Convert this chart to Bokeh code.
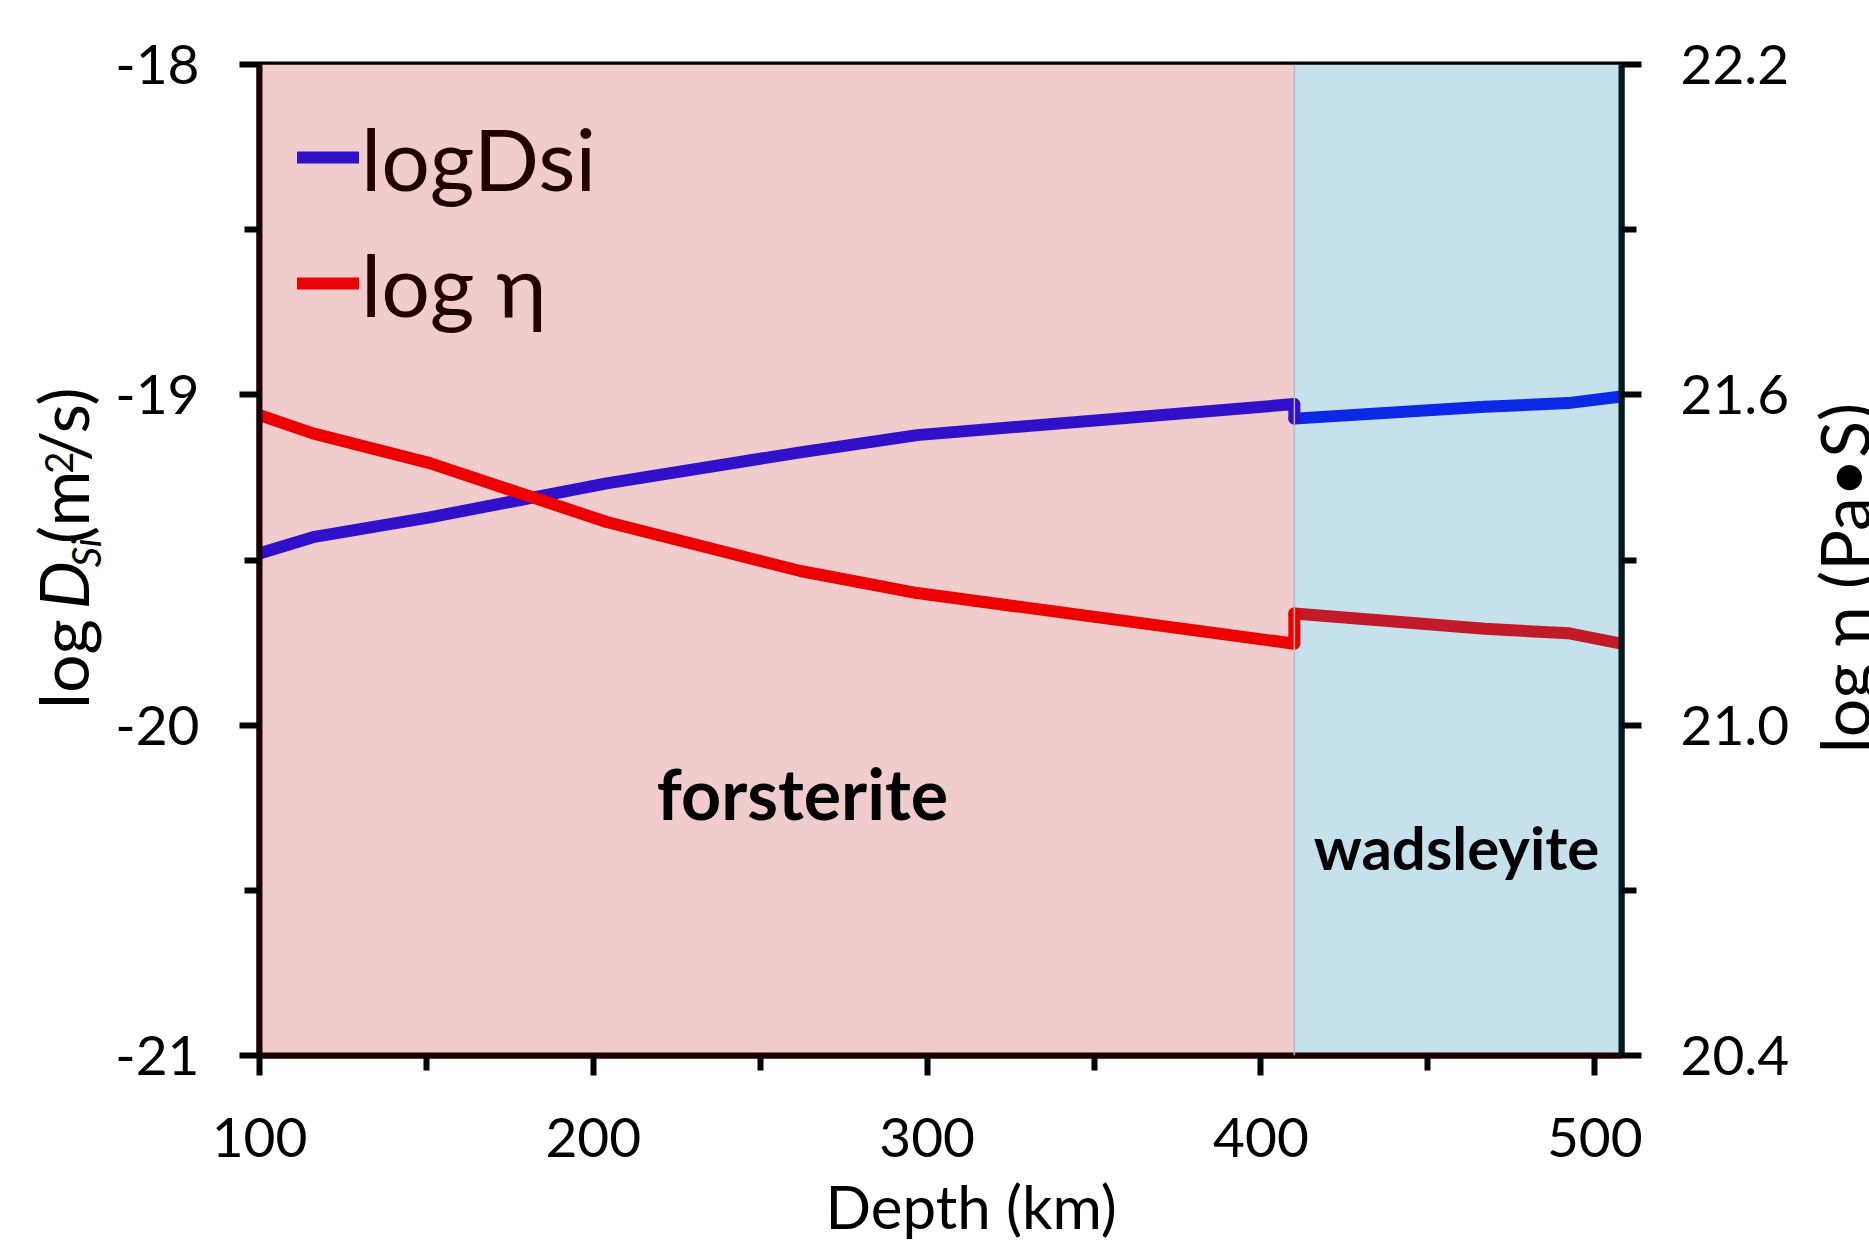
import math
from bokeh.plotting import figure
from bokeh.layouts import row
from bokeh.models import (LinearAxis, Range1d, FixedTicker, Legend, LegendItem,
                          Label, Span, PrintfTickFormatter)
from bokeh.embed import file_html
from bokeh.resources import INLINE

# ---------------- data ----------------
depth_fo = [100, 116, 151, 204, 262, 297, 410]
logD_fo = [-19.48, -19.431, -19.371, -19.268, -19.174, -19.122, -19.028]
logEta_fo = [21.563, 21.530, 21.476, 21.369, 21.280, 21.240, 21.148]

depth_wad = [410, 467, 492, 508]
logD_wad = [-19.072, -19.036, -19.025, -19.005]
logEta_wad = [21.203, 21.175, 21.167, 21.148]

phase_boundary = 410
depth_range = [100, 508]
logD_range = [-21, -18]
eta_range = [20.4, 22.2]

x_ticks = [100, 200, 300, 400, 500]
x_minor = [150, 250, 350, 450]
logD_ticks = [-21, -20, -19, -18]
logD_minor = [-20.5, -19.5, -18.5]
eta_ticks = [20.4, 21.0, 21.6, 22.2]
eta_minor = [20.7, 21.3, 21.9]

phase_names = ["forsterite", "wadsleyite"]
series_names = ["logDsi", "log η"]
x_title = "Depth (km)"
right_title = "log η (Pa•S)"

FONT = "Lato"
MID = 0.387   # baseline -> 'middle' anchor distance (em)

# ---------------- layout geometry (page px) ----------------
W_LEFT, W_RIGHT = 110, 69
FL, FR, FT, FB = 259, 1621, 64, 1055
TOTAL_W, TOTAL_H = 1869, 1242

p = figure(frame_width=FR - FL, frame_height=FB - FT,
           min_border_left=FL - W_LEFT, min_border_right=(TOTAL_W - W_RIGHT) - FR,
           min_border_top=FT, min_border_bottom=TOTAL_H - FB,
           x_range=Range1d(*depth_range), y_range=Range1d(*logD_range),
           output_backend="svg", toolbar_location=None, title=None)
p.extra_y_ranges = {"eta": Range1d(*eta_range)}
p.xgrid.visible = False
p.ygrid.visible = False
p.background_fill_color = "white"
p.border_fill_color = "white"
p.outline_line_color = "#050000"
p.outline_line_width = 6

def dx(px):
    return depth_range[0] + (px - FL) / (FR - FL) * (depth_range[1] - depth_range[0])
def dy(py):
    return logD_range[1] - (py - FT) / (FB - FT) * (logD_range[1] - logD_range[0])

# phase regions
p.quad(left=[depth_range[0], phase_boundary], right=[phase_boundary, depth_range[1]],
       bottom=[logD_range[0]] * 2, top=[logD_range[1]] * 2,
       fill_color=["#F0CCCC", "#C5E1EB"], line_color=None)
p.add_layout(Span(location=phase_boundary, dimension="height",
                  line_color="#B4B8C0", line_width=1.5))

LW = 12
p.line(depth_wad, logD_wad, line_color="#0A28E6", line_width=LW,
       line_join="round", line_cap="round")
p.line(depth_wad, logEta_wad, line_color="#C21A28", line_width=LW,
       line_join="round", line_cap="round", y_range_name="eta")
r_d = p.line(depth_fo + [depth_wad[0]], logD_fo + [logD_wad[0]],
             line_color="#3010C8", line_width=LW, line_join="round", line_cap="round")
r_e = p.line(depth_fo + [depth_wad[0]], logEta_fo + [logEta_wad[0]],
             line_color="#EE0000", line_width=LW, line_join="round", line_cap="round",
             y_range_name="eta")

# ---------------- axes ----------------
def style_axis(ax, color, standoff):
    ax.axis_line_color = color
    ax.axis_line_width = 6
    ax.major_tick_line_color = "black"
    ax.major_tick_line_width = 6
    ax.minor_tick_line_color = "black"
    ax.minor_tick_line_width = 6
    ax.major_tick_out = 20
    ax.major_tick_in = 0
    ax.minor_tick_out = 15
    ax.minor_tick_in = 0
    ax.major_label_text_font = FONT
    ax.major_label_text_font_size = "55px"
    ax.major_label_text_color = "black"
    ax.major_label_standoff = standoff

xa = p.xaxis[0]
xa.ticker = FixedTicker(ticks=x_ticks, minor_ticks=x_minor)
xa.formatter = PrintfTickFormatter(format="%d")
style_axis(xa, "#1E0000", 42)
# the original title sits a little right of centre: pad with no-break spaces
xa.axis_label = "\u00a0" * 4 + x_title
xa.axis_label_text_font = FONT
xa.axis_label_text_font_size = "60px"
xa.axis_label_text_font_style = "normal"
xa.axis_label_text_color = "black"
xa.axis_label_standoff = 10

ya = p.yaxis[0]
ya.ticker = FixedTicker(ticks=logD_ticks, minor_ticks=logD_minor)
ya.formatter = PrintfTickFormatter(format="%d")
style_axis(ya, "#1E0000", 40)

ra = LinearAxis(y_range_name="eta",
                ticker=FixedTicker(ticks=eta_ticks, minor_ticks=eta_minor),
                formatter=PrintfTickFormatter(format="%.1f"))
style_axis(ra, "#001A22", 39)
p.add_layout(ra, "right")

# ---------------- legend ----------------
legend = Legend(items=[LegendItem(label=series_names[0], renderers=[r_d]),
                       LegendItem(label=series_names[1], renderers=[r_e])],
                location=(38, 709), margin=0, padding=0, spacing=0,
                glyph_width=62, glyph_height=126, label_height=126,
                label_standoff=2,
                label_text_font=FONT, label_text_font_size="86px",
                label_text_color="#210000",
                background_fill_alpha=0, border_line_alpha=0)
p.add_layout(legend, "center")

def mk_label(fig, text, x, y, size, angle=0.0, align="center", style="normal", to_data=False):
    fig.add_layout(Label(x=dx(x) if to_data else x, y=dy(y) if to_data else y,
                         text=text, angle=angle,
                         text_align=align, text_baseline="middle",
                         text_font=FONT, text_font_size=f"{size}px",
                         text_font_style=style, text_color="black"))

# phase labels (baseline page y given, converted to a middle anchor)
mk_label(p, phase_names[0], 802, 820 - MID * 70, 70, style="bold", to_data=True)
mk_label(p, phase_names[1], 1456, 870 - MID * 60, 60, style="bold", to_data=True)

# ---------------- side panels for the vertical axis titles ----------------
def text_panel(x0, x1, y0, y1):
    f = figure(width=x1 - x0, height=y1 - y0,
               x_range=Range1d(x0, x1), y_range=Range1d(y1, y0),
               x_axis_type=None, y_axis_type=None, toolbar_location=None,
               output_backend="svg", title=None,
               min_border=0, min_border_left=0, min_border_right=0,
               min_border_top=0, min_border_bottom=0)
    f.outline_line_color = None
    f.background_fill_color = "white"
    f.border_fill_color = "white"
    return f

up = math.pi / 2
def vlabel(fig, text, baseline_x, y, size, style="normal", align="center"):
    # rotated text reading bottom-to-top; baseline at baseline_x
    mk_label(fig, text, baseline_x - MID * size, y, size, up, align=align, style=style)

left_fig = text_panel(0, W_LEFT, 0, TOTAL_H)
BL = 88  # baseline x of the left title
vlabel(left_fig, "log", BL, 753, 68)
vlabel(left_fig, "D", BL, 654, 68, style="italic")
vlabel(left_fig, "Si", BL + 13, 613, 40, style="italic")
vlabel(left_fig, "(m", BL, 556, 68)
vlabel(left_fig, "2", BL - 15, 500, 38)
vlabel(left_fig, "/s)", BL, 452, 68)

right_fig = text_panel(TOTAL_W - W_RIGHT, TOTAL_W, 0, TOTAL_H)
# anchor chosen so the rendered title spans the same rows as the original's
vlabel(right_fig, right_title, 1869, 865, 68, align="left")

layout = row(left_fig, p, right_fig)
open("out.html", "w").write(file_html(layout, INLINE))
